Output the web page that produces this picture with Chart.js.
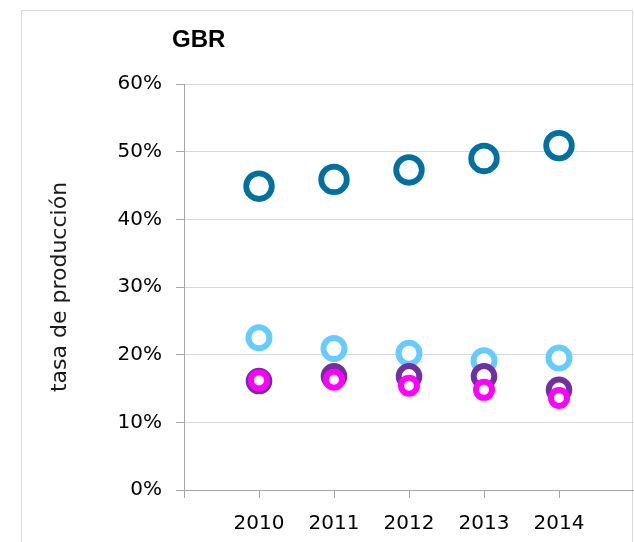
<!DOCTYPE html>
<html>
<head>
<meta charset="utf-8">
<script src="https://cdn.jsdelivr.net/npm/chart.js@4"></script>
<style>
  html, body { margin: 0; padding: 0; background: #fff; overflow: hidden; }
  #wrap { position: relative; width: 634px; height: 542px; }
  #frame { position: absolute; left: 21px; top: 10px; width: 612px; height: 560px; border: 1px solid #d9d9d9; box-sizing: border-box; }
  #c { position: absolute; left: 0; top: 0; }
</style>
</head>
<body>
<div id="wrap">
  <div id="frame"></div>
  <canvas id="c" width="634" height="542"></canvas>
</div>
<script>
const chartTitle = 'GBR';
const yAxisTitle = 'tasa de producción';
const years = [2010, 2011, 2012, 2013, 2014];
const seriesDarkBlue = [44.9, 45.9, 47.3, 49.0, 50.9];
const seriesLightBlue = [22.5, 20.9, 20.2, 19.1, 19.5];
const seriesPurple = [16.1, 16.8, 16.8, 16.8, 14.8];
const seriesMagenta = [16.2, 16.3, 15.4, 14.8, 13.6];
const yTicks = [0, 10, 20, 30, 40, 50, 60];

function pts(vals) { return years.map((y, i) => ({ x: y, y: vals[i] })); }

function ds(label, vals, color, r, bw) {
  return {
    label: label,
    data: pts(vals),
    showLine: false,
    pointStyle: 'circle',
    pointRadius: r,
    pointHoverRadius: r,
    pointBorderWidth: bw,
    pointHoverBorderWidth: bw,
    pointBorderColor: color,
    pointBackgroundColor: '#ffffff',
    borderColor: color,
    backgroundColor: '#ffffff',
    clip: false
  };
}

const titlePlugin = {
  id: 'gbrTitle',
  afterDraw(chart) {
    const ctx = chart.ctx;
    ctx.save();
    ctx.font = 'bold 24px "Liberation Sans", Arial, sans-serif';
    ctx.fillStyle = '#000000';
    ctx.textAlign = 'left';
    ctx.textBaseline = 'alphabetic';
    ctx.fillText(chartTitle, 172, 47);
    ctx.restore();
  }
};

new Chart(document.getElementById('c'), {
  type: 'line',
  data: {
    datasets: [
      ds('s4', seriesMagenta, '#ff00ff', 8, 6),
      ds('s3', seriesPurple, '#7030a0', 10.3, 6),
      ds('s2', seriesLightBlue, '#66ccff', 10.5, 6),
      ds('s1', seriesDarkBlue, '#0070a0', 12.8, 5.8)
    ]
  },
  options: {
    responsive: false,
    animation: false,
    events: [],
    layout: { autoPadding: false, padding: { top: 84, left: 0, right: 0, bottom: 0 } },
    plugins: { legend: { display: false }, tooltip: { enabled: false }, title: { display: false } },
    scales: {
      x: {
        type: 'linear',
        min: 2009,
        max: 2015,
        afterFit(scale) { scale.height = 52; scale.paddingLeft = 0; scale.paddingRight = 0; },
        afterBuildTicks(scale) {
          scale.ticks = [2009, 2010, 2011, 2012, 2013, 2014, 2015].map(v => ({ value: v }));
        },
        border: { display: true, color: '#a6a6a6', width: 1 },
        grid: {
          drawOnChartArea: false,
          drawTicks: true,
          tickLength: 8,
          tickColor: (c) => (c.tick && c.tick.value === 2015) ? 'rgba(0,0,0,0)' : '#a6a6a6'
        },
        ticks: {
          padding: 14,
          color: '#000000',
          font: { family: '"DejaVu Sans"', size: 20 },
          maxRotation: 0,
          autoSkip: false,
          callback: (v) => years.includes(v) ? String(v) : ''
        }
      },
      y: {
        type: 'linear',
        min: 0,
        max: 60,
        afterFit(scale) { scale.width = 184; },
        afterBuildTicks(scale) { scale.ticks = yTicks.map(v => ({ value: v })); },
        border: { display: true, color: '#a6a6a6', width: 1 },
        grid: {
          color: '#d9d9d9',
          lineWidth: 1,
          drawTicks: true,
          tickLength: 8,
          tickColor: '#a6a6a6'
        },
        ticks: {
          padding: 14,
          color: '#000000',
          font: { family: '"DejaVu Sans"', size: 20 },
          callback: (v) => v + '%'
        },
        title: {
          display: true,
          text: yAxisTitle,
          color: '#1a1a1a',
          font: { family: '"DejaVu Sans"', size: 22 },
          padding: { top: 47, bottom: 0 }
        }
      }
    }
  },
  plugins: [titlePlugin]
});
</script>
</body>
</html>
